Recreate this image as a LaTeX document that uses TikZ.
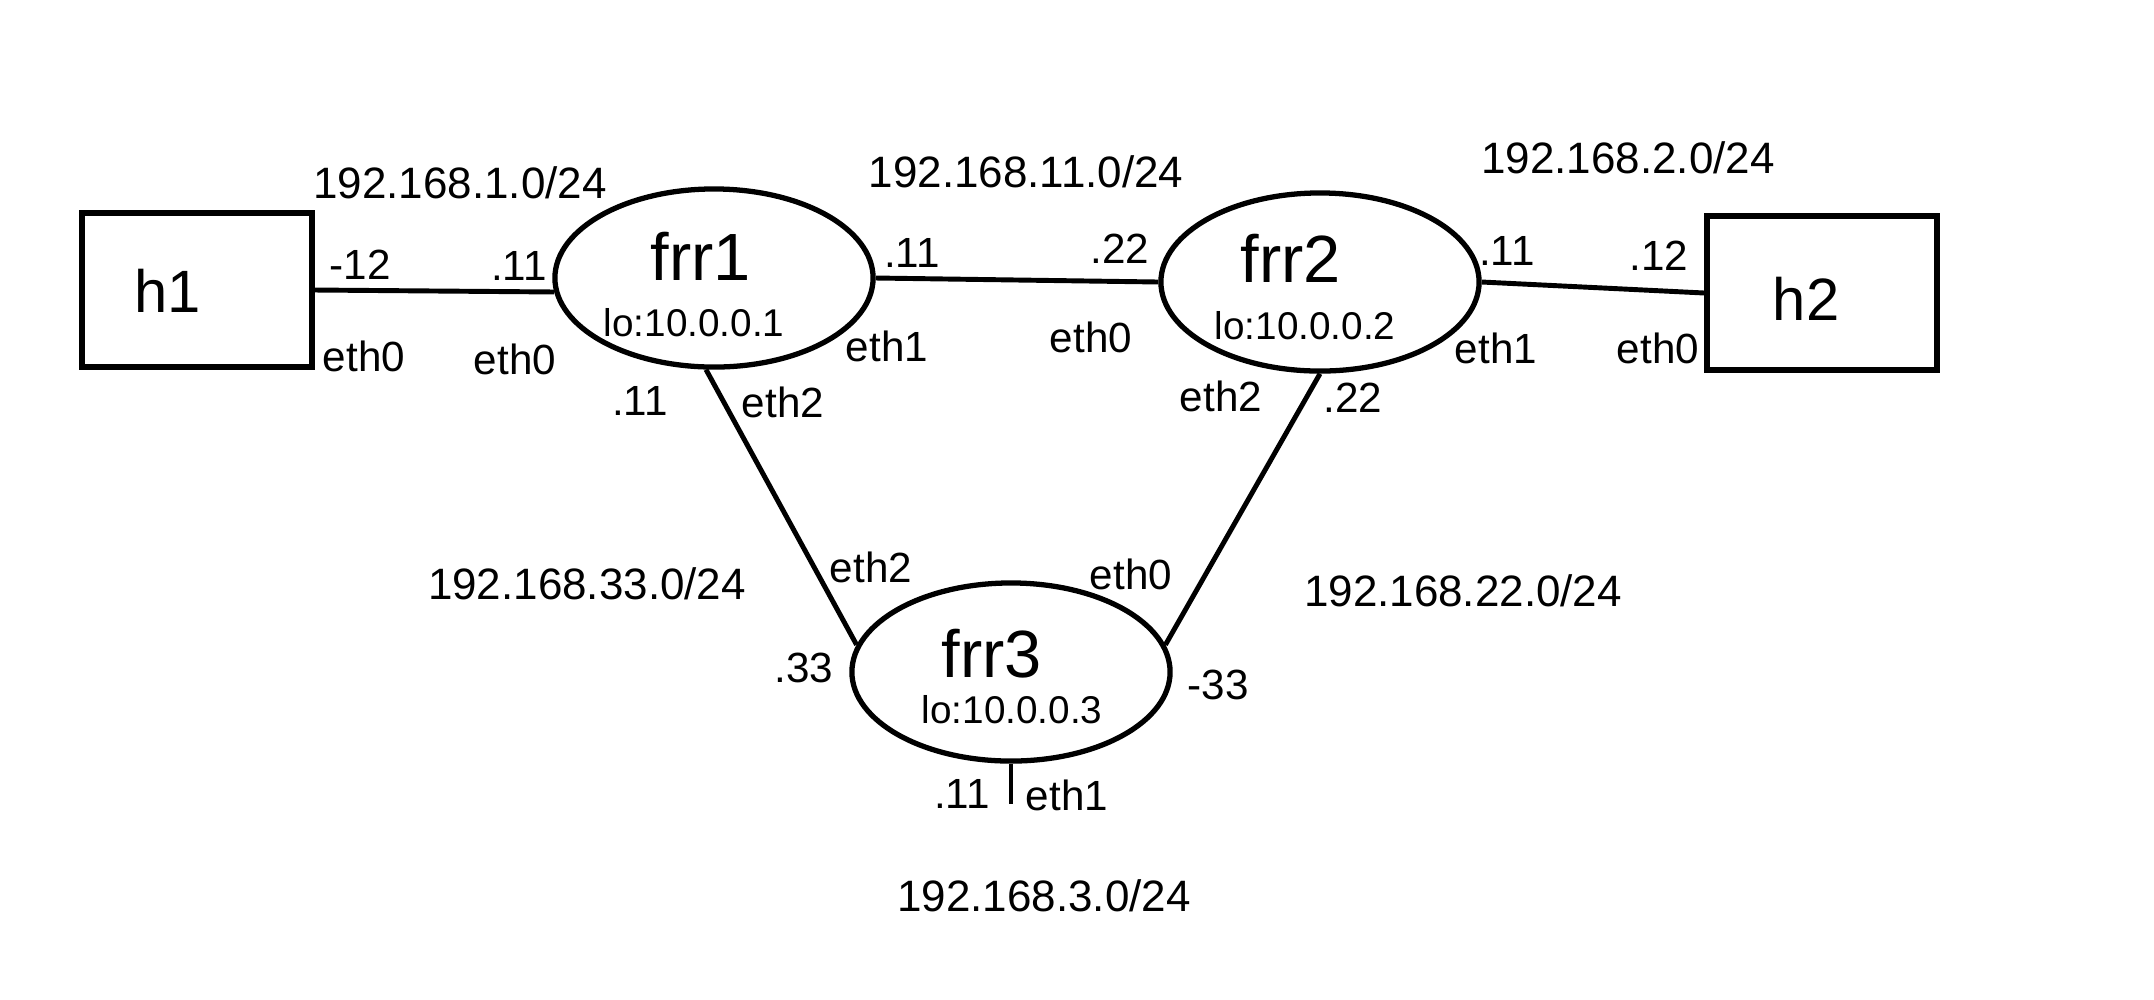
\documentclass[tikz,border=0pt]{standalone}
\usepackage{fontspec}
\setmainfont{Liberation Sans}
\usetikzlibrary{shapes.geometric}

\tikzset{
	host/.style={draw, line width=1.5pt, rectangle, minimum width=2.3cm, minimum height=1.54cm, inner sep=0pt},
	router/.style={draw, line width=1.5pt, ellipse, minimum width=3.18cm, minimum height=1.78cm, inner sep=0pt},
	link/.style={line width=1.4pt},
	hostname/.style={font=\fontsize{17}{20}\selectfont, inner sep=0pt},
	rname/.style={font=\fontsize{19}{22}\selectfont, inner sep=0pt},
	loaddr/.style={font=\fontsize{11}{13}\selectfont, inner sep=0pt},
	net/.style={font=\fontsize{12.5}{15}\selectfont, inner sep=0pt},
	port/.style={font=\fontsize{12}{14}\selectfont, inner sep=0pt}
}

\begin{document}
\begin{tikzpicture}[x=0.01cm, y=-0.01cm]

		\useasboundingbox (0,0) rectangle (2154,999);

		% hosts and routers
		\node[host] (h1) at (197,290) {};
		\node[host] (h2) at (1822,293) {};
		\node[router] (frr1) at (714,278) {};
		\node[router] (frr2) at (1320,282) {};
		\node[router] (frr3) at (1011,672) {};

		% names inside the shapes
		\node[hostname] (h1name) at (168,291) {h1};
		\node[hostname] (h2name) at (1806,299) {h2};
		\node[rname] (frr1name) at (701,256) {frr1};
		\node[rname] (frr2name) at (1291,258) {frr2};
		\node[rname] (frr3name) at (992,654) {frr3};
		\node[loaddr] (frr1lo) at (694,323) {lo:10.0.0.1};
		\node[loaddr] (frr2lo) at (1305,326) {lo:10.0.0.2};
		\node[loaddr] (frr3lo) at (1012,710) {lo:10.0.0.3};

		% links
		\coordinate (stub) at (1011,804);
		\draw[link] (h1.east) -- (frr1.185);
		\draw[link] (frr1.east) -- (frr2.west);
		\draw[link] (frr2.east) -- (h2.west);
		\draw[link] (frr1.-95) -- (frr3.170);
		\draw[link] (frr2.-90) -- (frr3.10);
		\draw[link] (frr3.south) -- (stub);

		% networks
		\foreach \x/\y/\t [count=\i] in {
			460/183/{192.168.1.0/24},
			1026/172/{192.168.11.0/24},
			1628/158/{192.168.2.0/24},
			587/584/{192.168.33.0/24},
			1463/591/{192.168.22.0/24},
			1044/896/{192.168.3.0/24}}
			\node[net] (net\i) at (\x,\y) {\t};

		% interface addresses and names
		\foreach \x/\y/\t [count=\i] in {
			360/265/-12, 519/266/.11, 364/356/eth0, 515/359/eth0,
			912/253/.11, 1120/249/.22, 887/346/eth1, 1091/337/eth0,
			1507/251/.11, 1659/256/.12, 1496/348/eth1, 1658/348/eth0,
			640/401/.11, 783/402/eth2, 1221/396/eth2, 1353/398/.22,
			871/567/eth2, 1131/574/eth0, 804/668/.33, 1218/685/-33,
			962/794/.11, 1067/795/eth1}
			\node[port] (port\i) at (\x,\y) {\t};

	\end{tikzpicture}
\end{document}
